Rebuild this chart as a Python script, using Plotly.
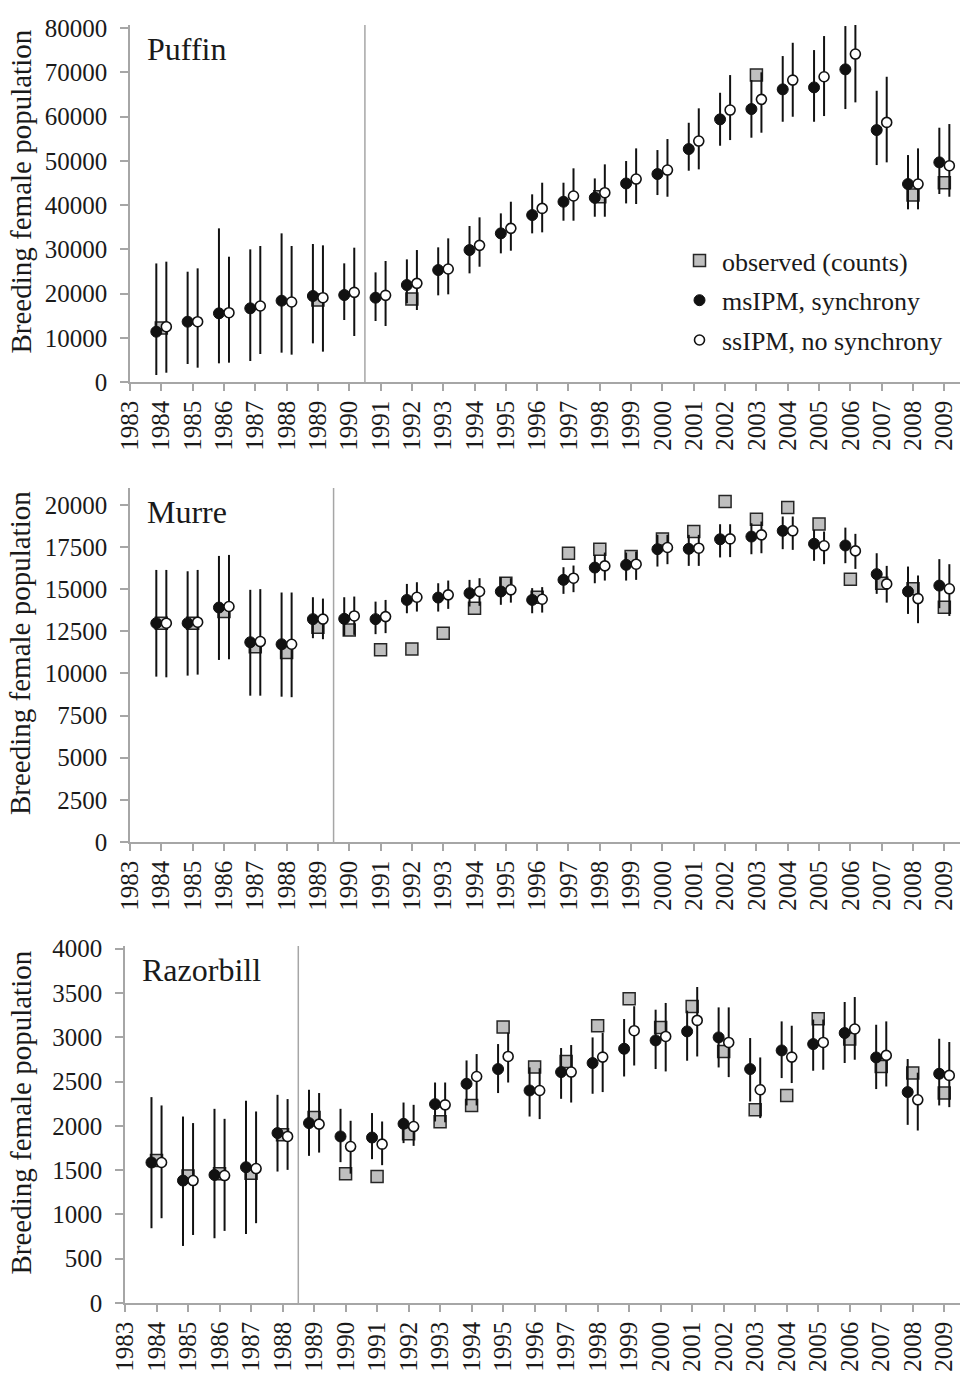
import plotly.graph_objects as go

FONT = "Liberation Serif"
years = list(range(1984, 2010))
tick_years = list(range(1983, 2010))
tick_text = [str(y) for y in tick_years]

# ---------------- Puffin ----------------
puffin_obs_years = [1984, 1989, 1992, 1998, 2003, 2008, 2009]
puffin_obs = [12200, 18530, 18760, 41880, 69380, 42260, 45050]
puffin_ms = [11370, 13630, 15520, 16650, 18380, 19440, 19660, 19060, 21920, 25310, 29830, 33600, 37740,
             40750, 41650, 44880, 47010, 52660, 59370, 61700, 66150, 66600, 70670, 56950, 44750, 49650]
puffin_ms_lo = [1580, 4070, 4220, 4750, 6630, 8740, 14010, 13790, 17800, 19590, 24560, 29080, 33600,
                36460, 37360, 40370, 42260, 47760, 53410, 55220, 58830, 58830, 61700, 49040, 39030, 42500]
puffin_ms_hi = [26800, 24930, 34730, 29980, 33600, 31190, 26820, 24780, 27720, 30440, 35260, 38120, 42420,
                45050, 46020, 49950, 52430, 58600, 65380, 68250, 73680, 75030, 80460, 65830, 51300, 57480]
puffin_ss = [12500, 13630, 15670, 17180, 18080, 19060, 20270, 19590, 22300, 25540, 30890, 34730, 39240,
             42040, 42790, 45880, 47910, 54470, 61470, 63890, 68250, 69000, 74130, 58680, 44750, 48890]
puffin_ss_lo = [2100, 3240, 4370, 6330, 6180, 6860, 10400, 12660, 16270, 19820, 26060, 29680, 33830,
                36460, 37360, 40230, 41880, 48070, 54690, 56350, 59960, 60120, 63210, 49650, 39030, 41880]
puffin_ss_hi = [27200, 25690, 28320, 30740, 30740, 30890, 30360, 27350, 29830, 32470, 37220, 40750, 45050,
                48300, 49200, 52810, 54920, 61860, 69380, 70000, 76680, 78200, 84980, 69000, 52810, 58310]

# ---------------- Murre ----------------
murre_obs_years = years
murre_obs = [12980, 12980, 13670, 11590, 11240, 12740, 12580, 11400, 11450, 12390, 13870, 15350, 14520,
             17130, 17370, 16930, 17980, 18420, 20200, 19150, 19840, 18870, 15590, 15350, 15020, 13930]
murre_ms = [12980, 12980, 13910, 11850, 11730, 13220, 13240, 13220, 14360, 14500, 14760, 14860, 14360,
            15550, 16280, 16440, 17370, 17390, 17960, 18120, 18460, 17690, 17590, 15890, 14860, 15210]
murre_ms_lo = [9810, 9870, 10800, 8680, 8620, 12090, 12230, 12330, 13570, 13670, 13970, 14070, 13570,
               14720, 15350, 15510, 16340, 16380, 16880, 17070, 17370, 16680, 16540, 14720, 13530, 13870]
murre_ms_hi = [16140, 16060, 16970, 14960, 14800, 14520, 14520, 14260, 15310, 15350, 15550, 15710, 15060,
               16300, 17030, 17170, 18220, 18220, 18850, 18910, 19310, 18520, 18650, 17130, 16340, 16780]
murre_ss = [12980, 13040, 13970, 11890, 11730, 13220, 13410, 13370, 14520, 14660, 14860, 14960, 14400,
            15650, 16380, 16480, 17470, 17430, 17980, 18220, 18460, 17570, 17270, 15310, 14440, 15020]
murre_ss_lo = [9770, 9930, 10840, 8680, 8590, 12030, 12290, 12390, 13670, 13830, 14010, 14200, 13610,
               14820, 15510, 15550, 16480, 16380, 16900, 17130, 17330, 16480, 16200, 14200, 12980, 13410]
murre_ss_hi = [16140, 16140, 17030, 15000, 14800, 14440, 14560, 14360, 15410, 15510, 15650, 15650, 15120,
               16400, 17170, 17230, 18220, 18220, 18850, 19010, 19310, 18420, 18280, 16380, 15810, 16480]

# ---------------- Razorbill ----------------
razor_obs_years = years
razor_obs = [1608, 1435, 1458, 1466, 1898, 2094, 1458, 1427, 1910, 2045, 2230, 3115, 2663,
             2727, 3130, 3435, 3111, 3348, 2840, 2181, 2343, 3209, 2980, 2670, 2596, 2370]
razor_ms = [1586, 1382, 1446, 1533, 1918, 2031, 1880, 1868, 2023, 2245, 2475, 2641, 2399,
            2607, 2709, 2870, 2964, 3066, 2998, 2641, 2851, 2923, 3048, 2772, 2381, 2588]
razor_ms_lo = [844, 644, 731, 780, 1484, 1661, 1590, 1624, 1805, 2049, 2230, 2370, 2105,
               2305, 2362, 2557, 2641, 2735, 2659, 2275, 2539, 2622, 2709, 2415, 2011, 2230]
razor_ms_hi = [2324, 2105, 2192, 2283, 2350, 2407, 2192, 2144, 2263, 2489, 2738, 2923, 2660,
               2878, 2998, 3206, 3311, 3300, 3337, 2991, 3179, 3200, 3398, 3141, 2754, 2983]
razor_ss = [1586, 1382, 1439, 1518, 1880, 2019, 1766, 1793, 1992, 2237, 2557, 2783, 2399,
            2607, 2776, 3074, 3009, 3190, 2941, 2407, 2776, 2941, 3093, 2795, 2294, 2569]
razor_ss_lo = [957, 768, 814, 901, 1503, 1698, 1460, 1556, 1774, 2040, 2230, 2489, 2076,
               2263, 2381, 2681, 2614, 2783, 2550, 2087, 2483, 2633, 2746, 2444, 1947, 2211]
razor_ss_hi = [2230, 2031, 2079, 2162, 2302, 2370, 2057, 2049, 2237, 2489, 2810, 3050, 2650,
               2912, 3050, 3350, 3387, 3567, 3337, 2772, 3130, 3200, 3454, 3179, 2600, 2946]

panels = [
    dict(name="Puffin", obs_x=puffin_obs_years, obs=puffin_obs, ms=puffin_ms, ms_lo=puffin_ms_lo,
         ms_hi=puffin_ms_hi, ss=puffin_ss, ss_lo=puffin_ss_lo, ss_hi=puffin_ss_hi,
         yrange=[0, 80700], dtick=10000, split=1990.5, ydom=[1 - 382 / 1373, 1 - 25 / 1373],
         xdom=[130 / 961, 960 / 961]),
    dict(name="Murre", obs_x=murre_obs_years, obs=murre_obs, ms=murre_ms, ms_lo=murre_ms_lo,
         ms_hi=murre_ms_hi, ss=murre_ss, ss_lo=murre_ss_lo, ss_hi=murre_ss_hi,
         yrange=[0, 21000], dtick=2500, split=1989.5, ydom=[1 - 842 / 1373, 1 - 488 / 1373],
         xdom=[130 / 961, 960 / 961]),
    dict(name="Razorbill", obs_x=razor_obs_years, obs=razor_obs, ms=razor_ms, ms_lo=razor_ms_lo,
         ms_hi=razor_ms_hi, ss=razor_ss, ss_lo=razor_ss_lo, ss_hi=razor_ss_hi,
         yrange=[0, 4030], dtick=500, split=1988.5, ydom=[1 - 1303 / 1373, 1 - 946 / 1373],
         xdom=[125 / 961, 960 / 961]),
]

OFF = 0.16
AXIS_COLOR = "#a6a6a6"
TEXT_COLOR = "#1a1a1a"

fig = go.Figure()
layout = dict(
    width=961, height=1373,
    margin=dict(l=0, r=0, t=0, b=0),
    paper_bgcolor="white", plot_bgcolor="white",
    font=dict(family=FONT, size=25, color=TEXT_COLOR),
    shapes=[], annotations=[],
)

for i, p in enumerate(panels):
    n = i + 1
    xa = "x" if n == 1 else f"x{n}"
    ya = "y" if n == 1 else f"y{n}"
    show = (n == 1)
    fig.add_trace(go.Scatter(
        x=p["obs_x"], y=p["obs"], xaxis=xa, yaxis=ya, mode="markers",
        name="observed (counts)", showlegend=show, legendgroup="a",
        marker=dict(symbol="square", size=12, color="#bfbfbf", line=dict(color="#262626", width=1.5)),
    ))
    fig.add_trace(go.Scatter(
        x=[y - OFF for y in years], y=p["ms"], xaxis=xa, yaxis=ya, mode="markers",
        name="msIPM, synchrony", showlegend=show, legendgroup="b",
        marker=dict(symbol="circle", size=11, color="#111111", line=dict(color="#111111", width=1)),
        error_y=dict(type="data", symmetric=False,
                     array=[h - v for h, v in zip(p["ms_hi"], p["ms"])],
                     arrayminus=[v - l for v, l in zip(p["ms"], p["ms_lo"])],
                     color="#111111", thickness=2, width=0),
    ))
    fig.add_trace(go.Scatter(
        x=[y + OFF for y in years], y=p["ss"], xaxis=xa, yaxis=ya, mode="markers",
        name="ssIPM, no synchrony", showlegend=show, legendgroup="c",
        marker=dict(symbol="circle", size=10, color="white", line=dict(color="#111111", width=1.6)),
        error_y=dict(type="data", symmetric=False,
                     array=[h - v for h, v in zip(p["ss_hi"], p["ss"])],
                     arrayminus=[v - l for v, l in zip(p["ss"], p["ss_lo"])],
                     color="#111111", thickness=2, width=0),
    ))
    xkey = "xaxis" if n == 1 else f"xaxis{n}"
    ykey = "yaxis" if n == 1 else f"yaxis{n}"
    layout[xkey] = dict(
        domain=p["xdom"], anchor=ya, range=[1983, 2009.5],
        tickmode="array", tickvals=tick_years, ticktext=tick_text, tickangle=-90,
        ticks="outside", ticklen=7, tickcolor=AXIS_COLOR, tickwidth=1.5,
        showline=True, linecolor=AXIS_COLOR, linewidth=1.5, showgrid=False, zeroline=False,
        tickfont=dict(family=FONT, size=25, color=TEXT_COLOR), automargin=False,
    )
    layout[ykey] = dict(
        domain=p["ydom"], anchor=xa, range=p["yrange"], dtick=p["dtick"], tick0=0,
        tickformat="d",
        ticks="outside", ticklen=8, tickcolor=AXIS_COLOR, tickwidth=1.5,
        showline=True, linecolor=AXIS_COLOR, linewidth=1.5, showgrid=False, zeroline=False,
        tickfont=dict(family=FONT, size=25, color=TEXT_COLOR), automargin=False,
        ticklabelstandoff=8,
    )
    layout["shapes"].append(dict(
        type="line", xref=xa, yref=f"{ya} domain", x0=p["split"], x1=p["split"], y0=0, y1=1,
        line=dict(color=AXIS_COLOR, width=1.5), layer="below",
    ))
    layout["annotations"].append(dict(
        text=p["name"], xref="paper", yref="paper",
        x=p["xdom"][0] + 15 / 961, y=p["ydom"][1] - 4 / 1373,
        xanchor="left", yanchor="top", showarrow=False,
        font=dict(family=FONT, size=32, color=TEXT_COLOR),
    ))
    layout["annotations"].append(dict(
        text="Breeding female population", xref="paper", yref="paper",
        x=20 / 961, y=(p["ydom"][0] + p["ydom"][1]) / 2 + 12 / 1373, textangle=-90,
        xanchor="center", yanchor="middle", showarrow=False,
        font=dict(family=FONT, size=29, color=TEXT_COLOR),
    ))

layout["legend"] = dict(
    x=677 / 961, y=1 - 237 / 1373, xanchor="left", yanchor="top",
    traceorder="grouped", tracegroupgap=3, itemwidth=35,
    bgcolor="rgba(0,0,0,0)", font=dict(family=FONT, size=26, color=TEXT_COLOR),
)
fig.update_layout(**layout)
fig.write_html(
    "out.html",
    config={"displayModeBar": False},
    post_script="document.body.style.margin='0';document.body.style.overflow='hidden';",
)
